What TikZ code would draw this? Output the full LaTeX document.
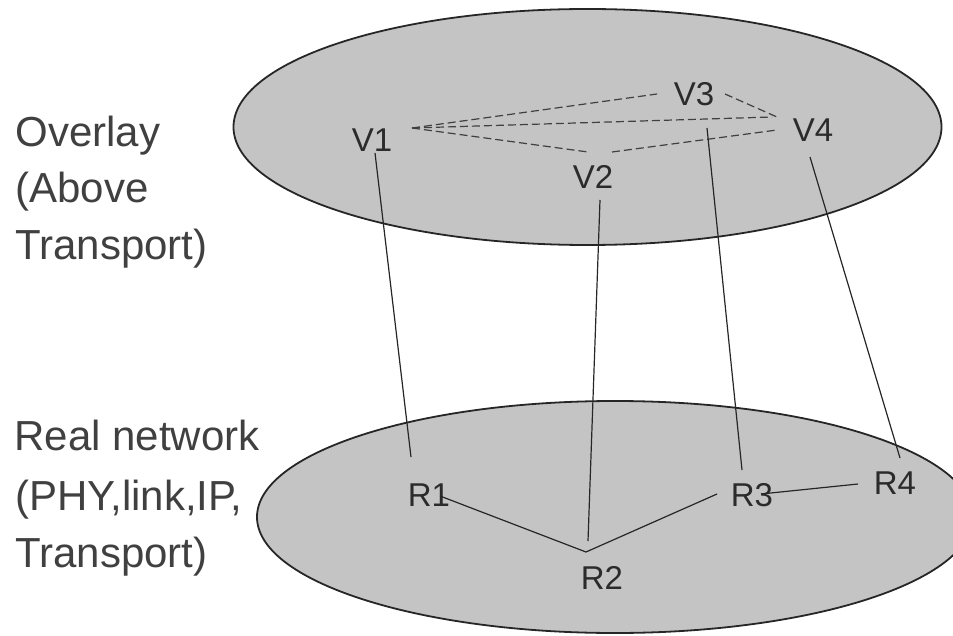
\documentclass[tikz,border=0pt]{standalone}
\usepackage{fontspec}
\setmainfont{Liberation Sans}
\usetikzlibrary{positioning,calc}

\definecolor{planefill}{gray}{0.77}
\definecolor{inkgray}{gray}{0.17}

\begin{document}
\begin{tikzpicture}[x=0.5pt,y=-0.5pt]
  \tikzset{
    plane/.style={draw=black!85, line width=0.9pt, fill=planefill},
    host/.style={inner sep=0pt, text=inkgray, font=\fontsize{16.5}{19}\selectfont},
    layertext/.style={anchor=base west, inner sep=0pt, text=black!75, font=\fontsize{21}{25}\selectfont},
    vlink/.style={draw=black!75, line width=0.6pt, dash pattern=on 4pt off 2pt},
    plink/.style={draw=black!85, line width=0.6pt}
  }
  \useasboundingbox (0,0) rectangle (953,636);

  % planes
  \draw[plane] (587.5,127) ellipse [x radius=354, y radius=118];
  \draw[plane] (615,517) ellipse [x radius=358, y radius=116];

  % layer names
  \node[layertext] (ovl1) at (15,147) {Overlay};
  \node[layertext] (ovl2) at (15,203) {(Above};
  \node[layertext] (ovl3) at (15,260) {Transport)};
  \node[layertext] (net1) at (14,450) {Real network};
  \node[layertext] (net2) at (15,510) {(PHY,link,IP,};
  \node[layertext] (net3) at (15,567) {Transport)};

  % overlay hosts
  \node[host] (v1) at (372,140) {V1};
  \node[host] (v2) at (593,177) {V2};
  \node[host] (v3) at (694,94) {V3};
  \node[host] (v4) at (813,130) {V4};

  % routers
  \node[host] (r1) at (429,495) {R1};
  \node[host] (r2) at (602,578) {R2};
  \node[host] (r3) at (752,495) {R3};
  \node[host] (r4) at (895,483) {R4};

  % overlay links
  \draw[vlink] ($(v1)+(40,-12)$) -- ($(v3)+(-37,0)$);
  \draw[vlink] ($(v1)+(40,-12)$) -- ($(v4)+(-41,-13)$);
  \draw[vlink] ($(v1)+(40,-12)$) -- ($(v2)+(-5,-25)$);
  \draw[vlink] ($(v2)+(19,-25)$) -- ($(v4)+(-36,0)$);
  \draw[vlink] ($(v3)+(31,0)$) -- ($(v4)+(-36,-13)$);

  % mapping to the real network
  \draw[plink] ($(v1)+(3,13)$) -- ($(r1)+(-18,-38)$);
  \draw[plink] ($(v2)+(7,23)$) -- ($(r2)+(-14,-37)$);
  \draw[plink] ($(v3)+(13,34)$) -- ($(r3)+(-10,-25)$);
  \draw[plink] ($(v4)+(-3,27)$) -- ($(r4)+(5,-25)$);

  % physical links
  \draw[plink] ($(r1)+(11,1)$) -- ($(r2)+(-16,-26)$);
  \draw[plink] ($(r2)+(-16,-26)$) -- ($(r3)+(-35,-1)$);
  \draw[plink] ($(r3)+(9,-1)$) -- ($(r4)+(-37,1)$);
\end{tikzpicture}
\end{document}
